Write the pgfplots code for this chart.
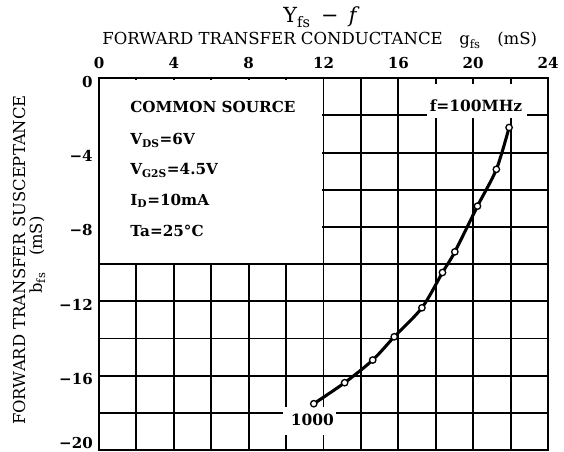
\documentclass[border=0pt]{standalone}
\usepackage{fontspec}
\setmainfont{DejaVu Serif}
\usepackage{pgfplots}
\pgfplotsset{compat=1.18}
\begin{document}
\begin{tikzpicture}
\begin{axis}[
  name=ax,
  scale only axis,
  width=336.75pt, height=278.8pt,
  xmin=0, xmax=24, ymin=-20, ymax=0,
  axis line style={line width=1.7pt},
  xtick={0,4,8,12,16,20,24},
  xticklabels={0,4,8,12,16,20,24},
  minor xtick={2,6,10,14,18,22},
  ytick={0,-4,-8,-12,-16,-20},
  yticklabels={0,−4,−8,−12,−16,{}},
  minor ytick={-2,-6,-10,-14,-18},
  xticklabel pos=upper,
  grid=both,
  major grid style={black, line width=1.4pt},
  minor grid style={black, line width=1.4pt},
  tick style={draw=none},
  xticklabel style={font=\bfseries\fontsize{11.3}{13}\selectfont, anchor=base, inner sep=0pt, yshift=7.5pt},
  yticklabel style={font=\bfseries\fontsize{11.3}{13}\selectfont, anchor=east, inner sep=0pt, xshift=-4.5pt, yshift=-2.5pt},
  clip=false,
]
% white box for the conditions
\fill[white] ([xshift=1pt,yshift=-1pt]axis cs:0,0) rectangle ([xshift=-0.8pt,yshift=0.8pt]axis cs:12,-10);
% white boxes behind the labels
\fill[white] (axis cs:17.53,-0.31) rectangle (axis cs:22.88,-2.12);
\fill[white] (axis cs:9.83,-17.67) rectangle (axis cs:12.67,-19.2);

\addplot[black, line width=2.3pt, smooth, mark=*, mark size=2.4pt,
  mark options={fill=white, draw=black, line width=1pt}]
  coordinates {
  (11.48,-17.51) (13.13,-16.38) (14.63,-15.16) (15.78,-13.91) (17.26,-12.35)
  (18.36,-10.45) (19.02,-9.34) (20.23,-6.88) (21.24,-4.90) (21.92,-2.65)
  };

\node[anchor=base, font=\bfseries\fontsize{11.6}{14}\selectfont] at (axis cs:20.15,-1.81) {f=100MHz};
\node[anchor=base, font=\bfseries\fontsize{11.6}{14}\selectfont] at (axis cs:11.41,-18.66) {1000};

\begin{scope}[every node/.style={anchor=base west, inner sep=0pt, font=\bfseries\fontsize{11.4}{14}\selectfont}]
\node at (axis cs:1.66,-1.85) {COMMON SOURCE};
\node at (axis cs:1.66,-3.59) {V\textsubscript{DS}=6V};
\node at (axis cs:1.66,-5.20) {V\textsubscript{G2S}=4.5V};
\node at (axis cs:1.66,-6.82) {I\textsubscript{D}=10mA};
\node at (axis cs:1.66,-8.53) {Ta=25°C};
\end{scope}

% bottom y tick label, kept inside the picture
\node[anchor=base east, inner sep=0pt, font=\bfseries\fontsize{11.3}{13}\selectfont] at ([xshift=-4.5pt,yshift=1.4pt]axis cs:0,-20) {−20};

% titles
\node[anchor=base, inner sep=0pt, font=\fontsize{15.6}{17}\selectfont] at (axis cs:11.9,2.98) {Y\textsubscript{fs}\enspace−\enspace\textit{f}};
\node[anchor=base, inner sep=0pt, font=\fontsize{12.4}{14}\selectfont] at (axis cs:11.8,1.79) {FORWARD TRANSFER CONDUCTANCE\quad g\textsubscript{fs}\quad (mS)};
\node[rotate=90, anchor=base, inner sep=0pt, font=\fontsize{12.3}{14}\selectfont] at (axis cs:-3.955,-9.78) {FORWARD TRANSFER SUSCEPTANCE};
\node[rotate=90, anchor=base, inner sep=0pt, font=\fontsize{12.3}{14}\selectfont] at (axis cs:-3.05,-9.51) {b\textsubscript{fs}\quad(mS)};
\end{axis}
\pgfresetboundingbox
\path[use as bounding box] ([xshift=-74.25pt,yshift=-1.5pt]ax.south west) rectangle ([xshift=12pt,yshift=58.7pt]ax.north east);
\end{tikzpicture}
\end{document}
